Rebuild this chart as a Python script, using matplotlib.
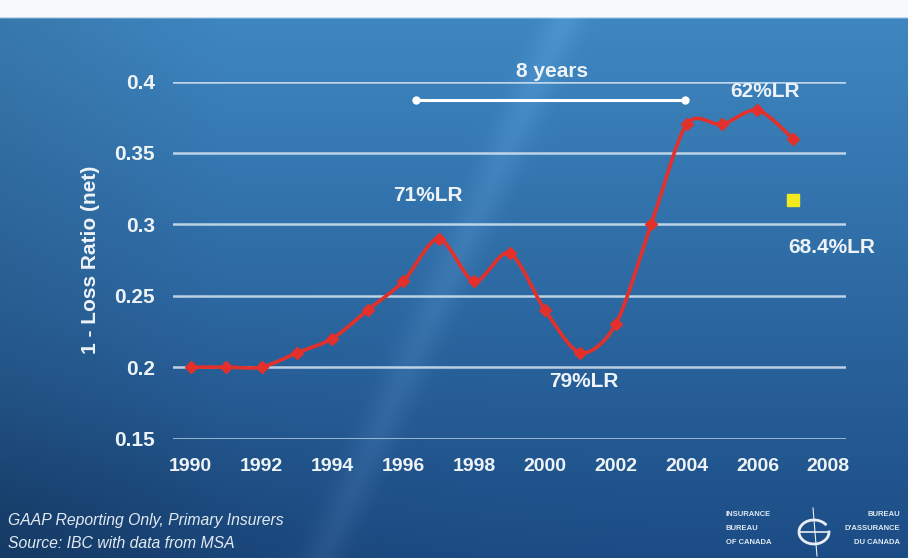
import numpy as np
import matplotlib
matplotlib.use("Agg")
import matplotlib.pyplot as plt

years = [1990, 1991, 1992, 1993, 1994, 1995, 1996, 1997, 1998, 1999,
         2000, 2001, 2002, 2003, 2004, 2005, 2006, 2007]
values = [0.20, 0.20, 0.20, 0.21, 0.22, 0.24, 0.26, 0.29, 0.26, 0.28,
          0.24, 0.21, 0.23, 0.30, 0.37, 0.37, 0.38, 0.36]
extra_year = [2007]
extra_value = [0.317]
y_ticks = [0.15, 0.2, 0.25, 0.3, 0.35, 0.4]
y_tick_labels = ["0.15", "0.2", "0.25", "0.3", "0.35", "0.4"]
x_ticks = [1990, 1992, 1994, 1996, 1998, 2000, 2002, 2004, 2006, 2008]
y_label = "1 - Loss Ratio (net)"
annotations = [("71%LR", 1996.7, 0.320), ("79%LR", 2001.1, 0.190),
               ("62%LR", 2006.2, 0.393), ("68.4%LR", 2008.1, 0.284)]
span_start, span_end, span_y = 1996.35, 2003.95, 0.387
span_label = "8 years"
foot_lines = ["GAAP Reporting Only, Primary Insurers", "Source: IBC with data from MSA"]

FONT = "Liberation Sans"
W, H = 908, 558
fig = plt.figure(figsize=(W / 100, H / 100), dpi=100)

# background gradient
bg = fig.add_axes([0, 0, 1, 1])
bg.set_axis_off()
ny, nx = 279, 454
yy, xx = np.mgrid[0:1:ny * 1j, 0:1:nx * 1j]
top = np.array([0x3e, 0x86, 0xc0]) / 255
bot = np.array([0x1c, 0x4c, 0x85]) / 255
t = np.clip((yy - 0.05) / 0.95, 0, 1)[..., None]
img = top * (1 - t) + bot * t
# darker left edge and bottom-left corner
left = np.clip(1 - xx / 0.25, 0, 1)[..., None] * 0.10
img = img * (1 - left)
corner = np.exp(-(((xx - 0.0) / 0.35) ** 2 + ((yy - 1.0) / 0.25) ** 2))[..., None] * 0.15
img = img * (1 - corner)
# light diagonal streak
d = xx - 0.6316 + 0.2765 * yy
streak = np.exp(-(d / 0.022) ** 2)[..., None] * 0.05
img = np.clip(img + streak, 0, 1)
# white top strip
strip = (yy < 17 / H)[..., None]
img = np.where(strip, np.array([0.97, 0.98, 0.99]), img)
bg.imshow(img, extent=[0, 1, 0, 1], aspect="auto", origin="upper",
          transform=bg.transAxes, interpolation="bilinear")
bg.set_xlim(0, 1)
bg.set_ylim(0, 1)

ax = fig.add_axes([173 / W, 1 - 438.5 / H, (846 - 173) / W, (438.5 - 81.5) / H])
ax.patch.set_alpha(0)
ax.set_xlim(1989.5, 2008.5)
ax.set_ylim(0.15, 0.4)
for s in ax.spines.values():
    s.set_visible(False)

for yt in y_ticks:
    ax.axhline(yt, color="#d6e5f2", lw=1.8, alpha=0.85, zorder=1)

ax.set_yticks(y_ticks)
ax.set_yticklabels(y_tick_labels)
ax.set_xticks(x_ticks)
ax.set_xticklabels([str(x) for x in x_ticks])
ax.tick_params(length=0, colors="#eef3f8", labelsize=14)
for lab in ax.get_xticklabels() + ax.get_yticklabels():
    lab.set_fontweight("bold")
    lab.set_fontfamily(FONT)
ax.tick_params(axis="x", pad=14)
ax.tick_params(axis="y", pad=13)
for lab in ax.get_yticklabels():
    lab.set_fontsize(15)

ax.set_ylabel(y_label, fontsize=15, fontweight="bold", color="#eef3f8",
              family=FONT, labelpad=10)

# smooth line through data points (Bezier segments)
xs = np.array(years, float)
ys = np.array(values, float)
px = np.concatenate([[xs[0]], xs, [xs[-1]]])
py = np.concatenate([[ys[0]], ys, [ys[-1]]])
cx, cy = [], []
tt = np.linspace(0, 1, 25)
k = 1 / 7
for i in range(1, len(px) - 2):
    p0, p1, p2, p3 = [np.array([px[j], py[j]]) for j in (i - 1, i, i + 1, i + 2)]
    b1 = p1 + (p2 - p0) * k
    b2 = p2 - (p3 - p1) * k
    seg = ((1 - tt) ** 3)[:, None] * p1 + (3 * (1 - tt) ** 2 * tt)[:, None] * b1 \
        + (3 * (1 - tt) * tt ** 2)[:, None] * b2 + (tt ** 3)[:, None] * p2
    cx.extend(seg[:, 0]); cy.extend(seg[:, 1])
ax.plot(cx, cy, color="#e4302a", lw=2.6, zorder=3, clip_on=False)
ax.plot(years, values, ls="none", marker="D", ms=6.5, color="#e4302a", zorder=4,
        clip_on=False)
ax.plot(extra_year, extra_value, ls="none", marker="s", ms=8, color="#f2ea1e",
        zorder=4, clip_on=False)

for txt, x, y in annotations:
    ax.text(x, y, txt, ha="center", va="center", fontsize=15, fontweight="bold",
            color="#eef3f8", family=FONT, zorder=5, clip_on=False)

ax.plot([span_start, span_end], [span_y, span_y], color="white", lw=2.2,
        marker="o", ms=5, zorder=5, clip_on=False)
ax.text((span_start + span_end) / 2 + 0.05, 0.4068, span_label, ha="center",
        va="center", fontsize=15, fontweight="bold", color="#eef3f8",
        family=FONT, zorder=5, clip_on=False)

# footnotes
fig.text(8 / W, 1 - 520 / H, foot_lines[0], fontsize=11.3, style="italic",
         color="#e2eaf2", family=FONT, va="center")
fig.text(8 / W, 1 - 543 / H, foot_lines[1], fontsize=11.3, style="italic",
         color="#e2eaf2", family=FONT, va="center")

# logo
for i, s in enumerate(["INSURANCE", "BUREAU", "OF CANADA"]):
    fig.text(726 / W, 1 - (514 + i * 14) / H, s, fontsize=5.5, fontweight="bold",
             color="#dfe8f0", family=FONT, va="center")
for i, s in enumerate(["BUREAU", "D'ASSURANCE", "DU CANADA"]):
    fig.text(900 / W, 1 - (514 + i * 14) / H, s, fontsize=5.5, fontweight="bold",
             color="#dfe8f0", family=FONT, va="center", ha="right")
th = np.linspace(0.0, 2 * np.pi - 0.7, 80)
lx = 814 + 15 * np.cos(th)
ly = 532 + 12 * np.sin(th)
bg.plot(lx / W, 1 - ly / H, color="#e8eef4", lw=2.0)
bg.plot([799 / W, 829 / W], [1 - 532 / H, 1 - 532 / H], color="#e8eef4", lw=1.2)
bg.plot([813 / W, 817 / W], [1 - 508 / H, 1 - 556 / H], color="#e8eef4", lw=0.8)

fig.savefig("out.png", dpi=100)
